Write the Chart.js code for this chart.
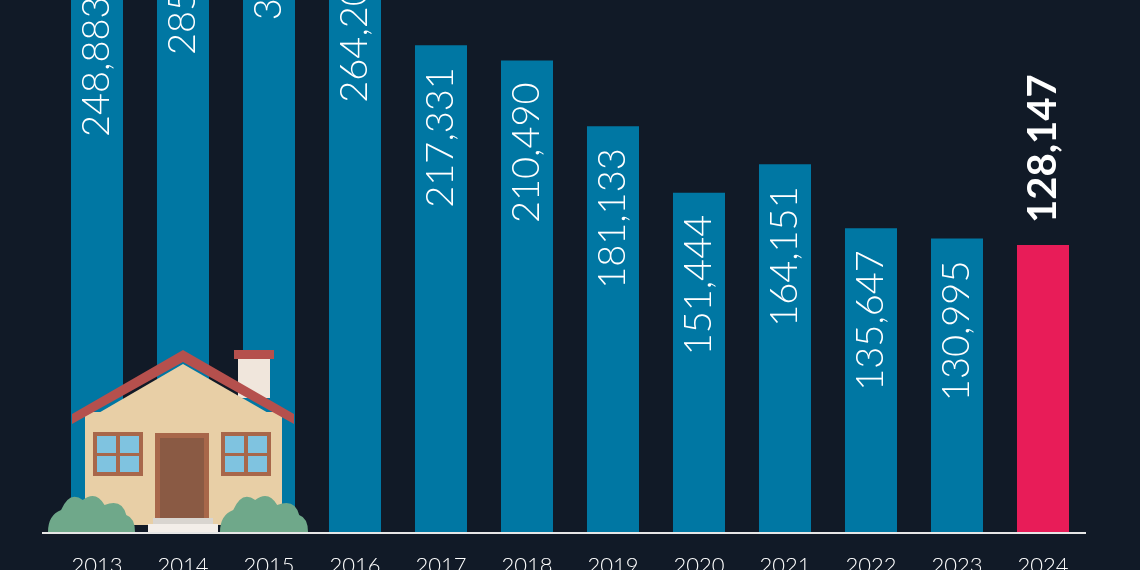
<!DOCTYPE html>
<html>
<head>
<meta charset="utf-8">
<script src="https://cdn.jsdelivr.net/npm/chart.js@4"></script>
<style>
  html, body { margin: 0; padding: 0; background: #111a27; }
  #wrap { width: 1140px; height: 570px; }
</style>
</head>
<body>
<div id="wrap"><canvas id="chart"></canvas></div>
<script>
const years = ['2013', '2014', '2015', '2016', '2017', '2018', '2019', '2020', '2021', '2022', '2023', '2024'];
const sales = [248883, 285500, 301000, 264205, 217331, 210490, 181133, 151444, 164151, 135647, 130995, 128147];
const barColors = ['#0077a3', '#0077a3', '#0077a3', '#0077a3', '#0077a3', '#0077a3', '#0077a3', '#0077a3', '#0077a3', '#0077a3', '#0077a3', '#e81c58'];

// labels, axis line and the little house
const decor = {
    id: 'decor',
    afterDatasetsDraw(chart) {
        const ctx = chart.ctx;
        const meta = chart.getDatasetMeta(0);
        const x = chart.scales.x;
        const base = chart.chartArea.bottom;

        ctx.save();
        ctx.fillStyle = '#ffffff';
        meta.data.forEach((bar, i) => {
            const label = sales[i].toLocaleString('en-US');
            ctx.save();
            ctx.translate(bar.x, bar.y);
            ctx.rotate(-Math.PI / 2);
            ctx.textBaseline = 'middle';
            if (i === sales.length - 1) {
                ctx.font = 'bold 40px Lato';
                ctx.textAlign = 'left';
                ctx.fillText(label, 22, 0);
            } else {
                ctx.font = '300 38px Lato';
                ctx.textAlign = 'right';
                ctx.fillText(label, -22, 0);
            }
            ctx.restore();
        });

        // house
        ctx.fillStyle = '#e8cfa6';
        ctx.fillRect(85, 412, 197, 113);
        ctx.fillStyle = '#f0e6dc';
        ctx.fillRect(238, 358, 32, 40);
        ctx.fillStyle = '#b5504d';
        ctx.fillRect(234, 350, 40, 9);
        ctx.beginPath();
        ctx.moveTo(72, 414); ctx.lineTo(183, 350); ctx.lineTo(294, 414);
        ctx.lineTo(294, 424); ctx.lineTo(183, 362); ctx.lineTo(72, 424);
        ctx.closePath(); ctx.fill();
        ctx.fillStyle = '#e8cfa6';
        ctx.beginPath();
        ctx.moveTo(90, 418); ctx.lineTo(183, 364); ctx.lineTo(277, 418);
        ctx.closePath(); ctx.fill();
        ctx.fillStyle = '#a8674a';
        ctx.fillRect(155, 433, 54, 88);
        ctx.fillStyle = '#8a5a44';
        ctx.fillRect(160, 438, 44, 82);
        ctx.fillStyle = '#a8674a';
        [93, 221].forEach(wx => {
            ctx.fillRect(wx, 432, 50, 44);
        });
        ctx.fillStyle = '#7fc3e0';
        [97, 225].forEach(wx => {
            ctx.fillRect(wx, 436, 19, 17);
            ctx.fillRect(wx + 23, 436, 19, 17);
            ctx.fillRect(wx, 456, 19, 16);
            ctx.fillRect(wx + 23, 456, 19, 16);
        });
        ctx.fillStyle = '#d9d5d0';
        ctx.fillRect(153, 518, 60, 8);
        ctx.fillStyle = '#f3eee9';
        ctx.fillRect(148, 524, 70, 8);
        ctx.fillStyle = '#6fa88a';
        [[48, 135], [220, 308]].forEach(([a, b]) => {
            const w = b - a;
            ctx.beginPath();
            ctx.moveTo(a, base);
            ctx.quadraticCurveTo(a, 515, a + w * 0.15, 510);
            ctx.quadraticCurveTo(a + w * 0.25, 490, a + w * 0.4, 500);
            ctx.quadraticCurveTo(a + w * 0.55, 490, a + w * 0.65, 505);
            ctx.quadraticCurveTo(a + w * 0.85, 498, a + w * 0.9, 515);
            ctx.quadraticCurveTo(b, 518, b, base);
            ctx.closePath(); ctx.fill();
        });

        // axis line
        ctx.strokeStyle = '#e6e6e6';
        ctx.lineWidth = 2;
        ctx.beginPath();
        ctx.moveTo(42, base + 1);
        ctx.lineTo(1086, base + 1);
        ctx.stroke();

        // year labels
        ctx.fillStyle = '#ffffff';
        ctx.font = '300 22px Lato';
        ctx.textAlign = 'center';
        ctx.textBaseline = 'middle';
        years.forEach((y, i) => {
            ctx.fillText(y, x.getPixelForValue(i), base + 34);
        });
        ctx.restore();
    }
};

new Chart(document.getElementById('chart'), {
    type: 'bar',
    data: {
        labels: years,
        datasets: [{
            data: sales,
            backgroundColor: barColors,
            barPercentage: 0.605,
            categoryPercentage: 1
        }]
    },
    options: {
        responsive: true,
        maintainAspectRatio: false,
        animation: false,
        layout: { padding: { left: 54, right: 54, top: 0, bottom: 38 } },
        plugins: { legend: { display: false }, tooltip: { enabled: false } },
        scales: {
            x: { display: false },
            y: { display: false, min: 0, max: 237500 }
        }
    },
    plugins: [decor]
});
</script>
</body>
</html>
